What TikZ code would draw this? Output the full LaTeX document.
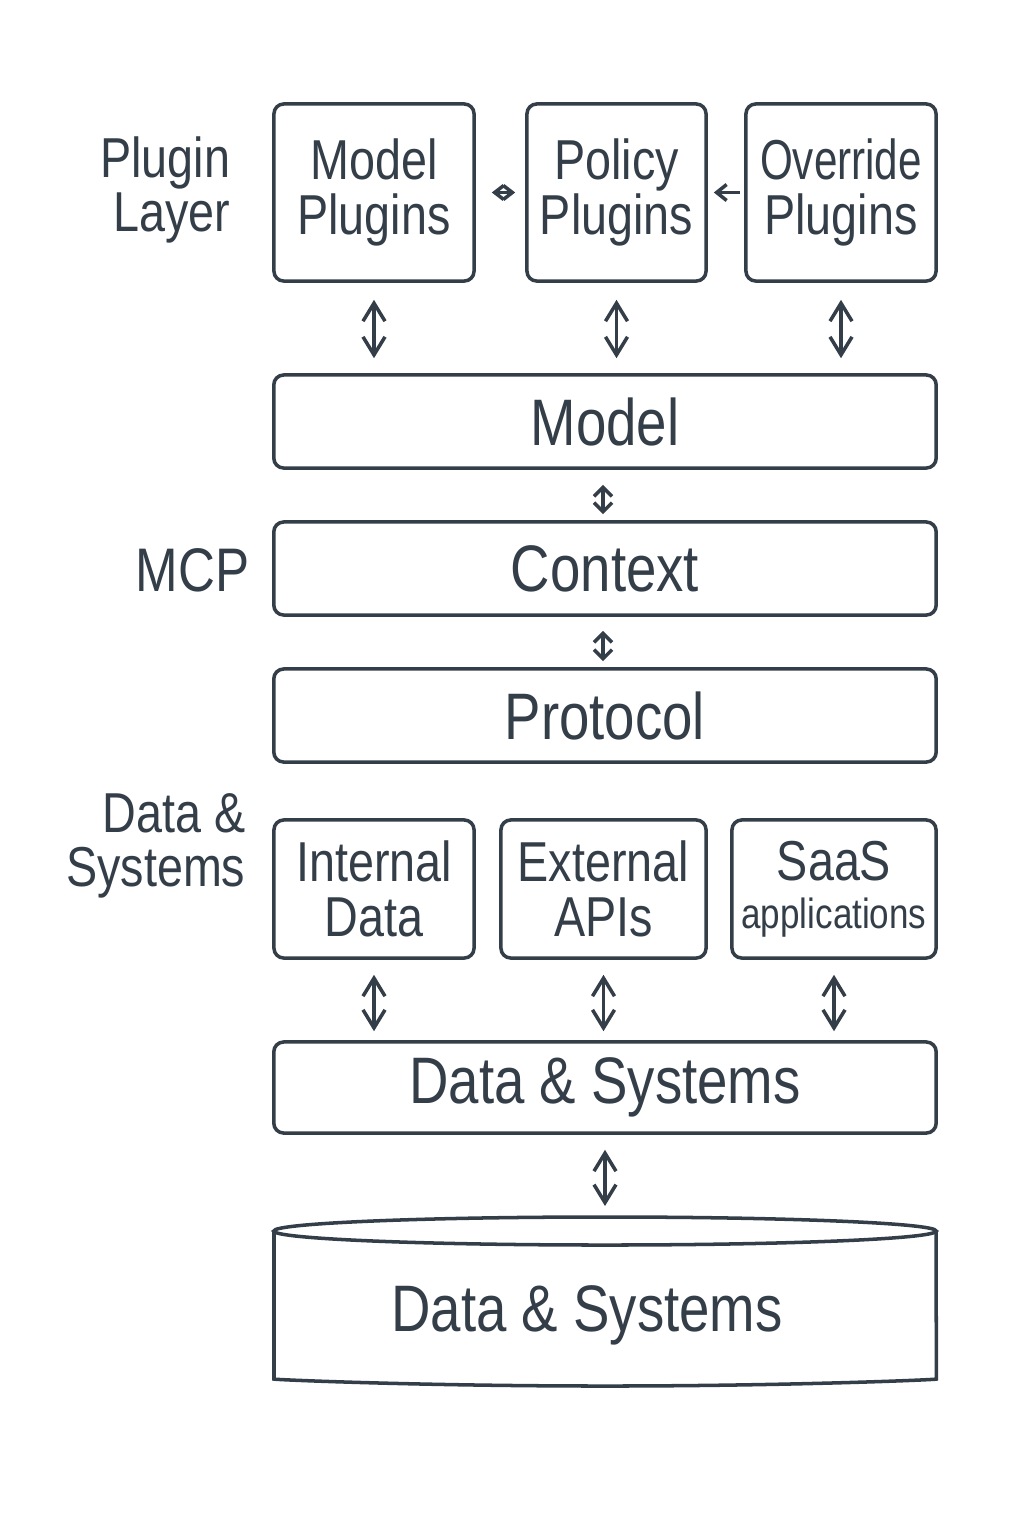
\documentclass[tikz,border=0pt]{standalone}
\usepackage{fontspec}
\setmainfont{Liberation Sans}[FakeStretch=0.83]
\newfontfamily\narrowfont{Liberation Sans}[FakeStretch=0.75]
\usetikzlibrary{positioning,arrows.meta,calc}
\definecolor{ink}{RGB}{52,62,72}
\tikzset{
  box/.style={draw=ink, line width=1pt, rounded corners=2.8pt, inner sep=0pt,
              align=center, text=ink, font=\fontsize{16}{15.5}\selectfont},
  plugbox/.style={box, minimum height=1.77cm},
  srcbox/.style={box, minimum height=1.38cm},
  layer/.style={box, minimum width=6.62cm, minimum height=0.93cm,
                font=\fontsize{18.7}{20}\selectfont},
  side/.style={anchor=east, align=right, text=ink, inner sep=0pt,
               font=\fontsize{16}{15.5}\selectfont},
  dbl/.style={<->, >={Straight Barb[length=1.8mm,width=2.2mm]}, line width=1pt, draw=ink},
  shortdbl/.style={<->, >={Straight Barb[length=0.9mm,width=1.8mm]}, line width=1pt, draw=ink},
  smalldbl/.style={<->, >={Straight Barb[length=0.9mm,width=1.4mm]}, line width=1pt, draw=ink},
  back/.style={->, >={Straight Barb[length=1mm,width=1.6mm]}, line width=1pt, draw=ink}
}
\begin{document}
\begin{tikzpicture}[x=0.01cm, y=-0.01cm]
\useasboundingbox[fill=white] (0,0) rectangle (1024,1536);
% plugin layer
\node[side] (lplug) at (231,190) {Plugin\\Layer};
\node[plugbox, minimum width=2.00cm] (mplug) at (374,192.5) {Model\\Plugins};
\node[plugbox, minimum width=1.79cm] (pplug) at (616.5,192.5) {Policy\\Plugins};
\node[plugbox, minimum width=1.90cm] (oplug) at (841,192.5) {{\narrowfont Override}\\Plugins};
\draw[smalldbl, shorten <=1.6mm, shorten >=1mm] (mplug.east) -- (pplug.west);
\draw[back, shorten <=0.4mm, shorten >=0.6mm] (oplug.west) -- (pplug.east);
% MCP
\node[layer] (model) at (605,421.5) {Model};
\node[layer] (context) at (605,568.5) {Context};
\node[layer] (protocol) at (605,715.5) {Protocol};
\node[side, font=\fontsize{17.5}{18}\selectfont] (lmcp) at (250,570) {MCP};
\foreach \p in {mplug,pplug,oplug}
  \draw[dbl, shorten <=1.7mm, shorten >=1.5mm] (\p.south) -- (\p.south |- model.north);
\draw[shortdbl, shorten <=1.5mm, shorten >=0.6mm] (model.south -| 603,0) -- (context.north -| 603,0);
\draw[shortdbl, shorten <=1.4mm, shorten >=0.6mm] (context.south -| 603,0) -- (protocol.north -| 603,0);
% data & systems
\node[side] (ldata) at (246,846) {Data \&\\Systems};
\node[srcbox, minimum width=2.00cm] (intdata) at (374,889) {Internal\\Data};
\node[srcbox, minimum width=2.05cm] (extapi) at (603.5,889) {External\\APIs};
\node[srcbox, minimum width=2.04cm] (saas) at (834,889) {SaaS\\[-2pt]{\fontsize{12}{14}\selectfont applications}};
\node[layer, minimum height=0.91cm] (dsys) at (605,1087.5) {Data \& Systems};
\foreach \s in {intdata,extapi,saas}
  \draw[dbl, shorten <=1.5mm, shorten >=0.9mm] (\s.south) -- (\s.south |- dsys.north);
% store
\draw[ink, line width=1pt] (605,1231) ellipse [x radius=3.31cm, y radius=0.14cm];
\draw[ink, line width=1pt, rounded corners=2pt] (274,1231) -- (274,1372)
  arc[start angle=180, end angle=360, x radius=3.31cm, y radius=0.14cm] -- (936,1231);
\coordinate (dbtop) at (605,1217);
\node[text=ink, font=\fontsize{18.7}{20}\selectfont] (db) at (587,1315) {Data \& Systems};
\draw[dbl, shorten <=1.5mm, shorten >=1.1mm] (dsys.south -| dbtop) -- (dbtop);
\end{tikzpicture}
\end{document}
